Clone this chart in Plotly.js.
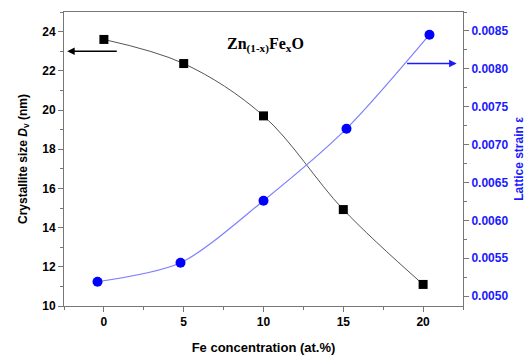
<!DOCTYPE html>
<html>
<head>
<meta charset="utf-8">
<script src="https://cdn.plot.ly/plotly-3.0.1.min.js"></script>
<style>html,body{margin:0;padding:0;background:#fff;}#chart{width:526px;height:356px;}</style>
</head>
<body>
<div id="chart"></div>
<script>
// Data
const feConc = [0, 5, 10, 15, 20];
const crystalliteSize = [23.6, 22.37, 19.7, 14.92, 11.1];
const strainConc = [-0.4, 4.8, 10.0, 15.2, 20.4];
const latticeStrain = [0.00519, 0.00544, 0.00626, 0.00721, 0.00845];
const xTicks = [0, 5, 10, 15, 20];

const traces = [
  {
    x: feConc, y: crystalliteSize, type: 'scatter', mode: 'lines+markers',
    line: {color: '#555555', width: 1, shape: 'spline', smoothing: 1},
    marker: {symbol: 'square', size: 9, color: '#000000'},
    yaxis: 'y', showlegend: false
  },
  {
    x: strainConc, y: latticeStrain, type: 'scatter', mode: 'lines+markers',
    line: {color: '#7f7fff', width: 1.2, shape: 'spline', smoothing: 0.8},
    marker: {symbol: 'circle', size: 10, color: '#0000ff'},
    yaxis: 'y2', showlegend: false
  }
];

const SANS = 'Liberation Sans, Arial, sans-serif';

const layout = {
  width: 526, height: 356,
  margin: {l: 64, r: 63, t: 12, b: 50},
  paper_bgcolor: '#fff', plot_bgcolor: '#fff',
  showlegend: false,
  xaxis: {
    range: [-2.5, 22.5], tickvals: xTicks, ticktext: xTicks.map(v => '<b>' + v + '</b>'),
    showgrid: false, zeroline: false, showline: true, linecolor: '#777', linewidth: 1,
    mirror: true, ticks: 'outside', ticklen: 5, tickcolor: '#777',
    minor: {dtick: 2.5, tick0: 0, ticks: 'outside', ticklen: 3, tickcolor: '#777', showgrid: false},
    tickfont: {family: SANS, size: 12, color: '#000', weight: 700},
    title: {text: '<b>Fe concentration (at.%)</b>', font: {family: SANS, size: 13, color: '#000'}, standoff: 14}
  },
  yaxis: {
    range: [10, 25], tick0: 10, dtick: 2,
    showgrid: false, zeroline: false, showline: true, linecolor: '#777', linewidth: 1,
    ticks: 'outside', ticklen: 5, tickcolor: '#777',
    minor: {dtick: 1, tick0: 10, ticks: 'outside', ticklen: 3, tickcolor: '#777', showgrid: false},
    tickfont: {family: SANS, size: 12, color: '#000', weight: 700},
    title: {text: '<b>Crystallite size <i>D</i><sub>v</sub> (nm)</b>', font: {family: SANS, size: 12, color: '#000'}, standoff: 12}
  },
  yaxis2: {
    overlaying: 'y', side: 'right',
    range: [0.00487, 0.00875], tick0: 0.005, dtick: 0.0005, tickformat: '.4f',
    showgrid: false, zeroline: false, showline: true, linecolor: '#777', linewidth: 1,
    ticks: 'outside', ticklen: 5, tickcolor: '#777',
    minor: {dtick: 0.00025, tick0: 0.005, ticks: 'outside', ticklen: 3, tickcolor: '#777', showgrid: false},
    tickfont: {family: SANS, size: 12, color: '#1a1aff', weight: 700},
    title: {text: '<b>Lattice strain ε</b>', font: {family: SANS, size: 12, color: '#1a1aff'}, standoff: 20}
  },
  annotations: [
    {
      xref: 'x', yref: 'y', x: 10.1, y: 23.3,
      text: '<b>Zn<sub>(1-x)</sub>Fe<sub>x</sub>O</b>', showarrow: false,
      font: {family: 'Liberation Serif, Times New Roman, serif', size: 16, color: '#000'}
    },
    {
      xref: 'x', yref: 'y', axref: 'x', ayref: 'y',
      x: -2.3, y: 23.0, ax: 0.9, ay: 23.0, text: '', showarrow: true,
      arrowhead: 2, arrowsize: 1, arrowwidth: 1.5, arrowcolor: '#000'
    },
    {
      xref: 'x', yref: 'y2', axref: 'x', ayref: 'y2',
      x: 22.1, y: 0.00807, ax: 18.9, ay: 0.00807, text: '', showarrow: true,
      arrowhead: 2, arrowsize: 1, arrowwidth: 1.5, arrowcolor: '#1a1aff'
    }
  ]
};

Plotly.newPlot('chart', traces, layout, {displayModeBar: false, staticPlot: true});
</script>
</body>
</html>
